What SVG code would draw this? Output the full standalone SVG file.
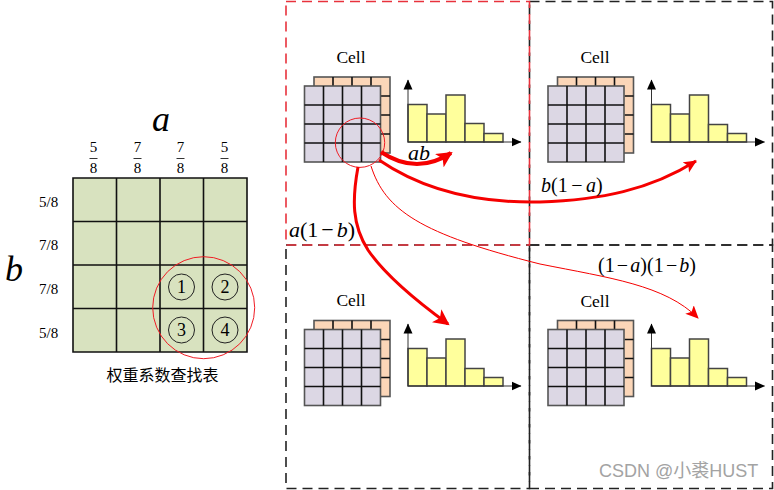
<svg xmlns="http://www.w3.org/2000/svg" width="774" height="490" viewBox="0 0 774 490">
<style>
text{font-family:"Liberation Serif","Noto Sans CJK SC",serif;fill:#000}
.i{font-style:italic}
.m{text-anchor:middle}
.grid{stroke:#111;stroke-width:1.6;fill:none}
.back{fill:#fbd6b8;stroke:#555;stroke-width:1.6}
.front{fill:#dcd7e4;stroke:#555;stroke-width:1.6}
.bar{fill:#ffff9c;stroke:#444;stroke-width:1.5}
.axis{stroke:#333;stroke-width:1;fill:none}
.dash{fill:none;stroke:#222;stroke-width:1.6;stroke-dasharray:10 6}
.dashr{fill:none;stroke:#e8323c;stroke-width:1.6;stroke-dasharray:10 6}
.num{fill:none;stroke:#222;stroke-width:1}
.red{fill:none;stroke:#f01c24;stroke-width:1}
.conn{fill:none;stroke:#f50000}
.cell{font-size:17.500px}
</style>
<defs>
<marker id="ax" markerUnits="userSpaceOnUse" markerWidth="11" markerHeight="11" refX="9.500" refY="5" orient="auto"><path d="M0,0.500L10,5L0,9.500Z" fill="#000"/></marker>
<marker id="h1" markerUnits="userSpaceOnUse" markerWidth="18" markerHeight="16" refX="14" refY="8" orient="auto"><path d="M0,0L16,8L0,16L4,8Z" fill="#f50000"/></marker>
<marker id="h2" markerUnits="userSpaceOnUse" markerWidth="14" markerHeight="14" refX="12" refY="6" orient="auto"><path d="M0,0L13,6L0,12L3,6Z" fill="#f50000"/></marker>
<g id="stack">
<rect class="back" x="314" y="77" width="76" height="76"/>
<path class="grid" d="M333,77V86M352,77V86M371,77V86M381,96H390M381,115H390M381,134H390"/>
<rect class="front" x="304.500" y="86" width="76" height="76"/>
<path class="grid" d="M323.500,86V162M342.500,86V162M361.500,86V162M304.500,105H380.500M304.500,124H380.500M304.500,143H380.500"/>
</g>
<g id="hist1">
<rect class="bar" x="408" y="104.500" width="19" height="37.500"/>
<rect class="bar" x="427" y="114" width="19" height="28"/>
<rect class="bar" x="446" y="95" width="19" height="47"/>
<rect class="bar" x="465" y="123.500" width="19" height="18.500"/>
<rect class="bar" x="484" y="133.500" width="19" height="8.500"/>
<path class="axis" d="M408,142V80" marker-end="url(#ax)"/>
<path class="axis" d="M408,142H521" marker-end="url(#ax)"/>
</g>
<g id="hist2">
<rect class="bar" x="408" y="104.500" width="19" height="37.500"/>
<rect class="bar" x="427" y="114" width="19" height="28"/>
<rect class="bar" x="446" y="95" width="19" height="47"/>
<rect class="bar" x="465" y="124.500" width="19" height="17.500"/>
<rect class="bar" x="484" y="133.500" width="19" height="8.500"/>
<path class="axis" d="M408,142V80" marker-end="url(#ax)"/>
<path class="axis" d="M408,142H521" marker-end="url(#ax)"/>
</g>
</defs>

<g id="panels">
<rect class="dash" x="529.500" y="1.500" width="243" height="243.500"/>
<rect class="dash" x="286" y="245" width="243.500" height="243.500"/>
<rect class="dash" x="529.500" y="245" width="243" height="243.500"/>
<rect class="dashr" x="286" y="1.500" width="243.500" height="243.500"/>
</g>

<g id="table">
<rect x="73" y="178" width="174" height="174" fill="#d8e2bf"/>
<path class="grid" d="M73,178H247V352H73ZM116.500,178V352M160,178V352M203.500,178V352M73,221.500H247M73,265H247M73,308.500H247"/>
<text x="152" y="131" class="i" font-size="36">a</text>
<text x="5" y="281" class="i" font-size="36">b</text>
<g font-size="15">
<text x="93.500" y="152" class="m">5</text><text x="93.500" y="173" class="m">8</text>
<text x="137.500" y="152" class="m">7</text><text x="137.500" y="173" class="m">8</text>
<text x="180.500" y="152" class="m">7</text><text x="180.500" y="173" class="m">8</text>
<text x="224.500" y="152" class="m">5</text><text x="224.500" y="173" class="m">8</text>
</g>
<path d="M89.500,158.500h8M133.500,158.500h8M176.500,158.500h8M220.500,158.500h8" stroke="#000" stroke-width="0.800" fill="none"/>
<g font-size="15">
<text x="39" y="207">5/8</text><text x="39" y="250">7/8</text><text x="39" y="294">7/8</text><text x="39" y="338">5/8</text>
</g>
<circle class="num" cx="181.500" cy="287" r="13"/><circle class="num" cx="225" cy="287" r="13"/>
<circle class="num" cx="181.500" cy="330" r="13"/><circle class="num" cx="225" cy="330" r="13"/>
<g font-size="18">
<text x="181.500" y="293" class="m">1</text><text x="225" y="293" class="m">2</text>
<text x="181.500" y="336" class="m">3</text><text x="225" y="336" class="m">4</text>
</g>
<circle class="red" cx="203.700" cy="307.700" r="51"/>
<text x="162.500" y="381" class="m" font-size="16">权重系数查找表</text>
</g>

<g id="cell-tl">
<text x="351" y="63" class="m cell">Cell</text>
<use href="#stack"/><use href="#hist1"/>
<circle class="red" cx="360" cy="142.700" r="24.700"/>
</g>
<g id="cell-tr">
<text x="595" y="63" class="m cell">Cell</text>
<use href="#stack" x="243.500"/><use href="#hist2" x="243.500"/>
</g>
<g id="cell-bl">
<text x="351" y="306" class="m cell">Cell</text>
<use href="#stack" y="243.500"/><use href="#hist2" y="244"/>
</g>
<g id="cell-br">
<text x="595" y="307" class="m cell">Cell</text>
<use href="#stack" x="243.500" y="243.500"/><use href="#hist2" x="243.500" y="244"/>
</g>

<g id="connectors">
<path class="conn" stroke-width="4" d="M381,152C402,166 425,170 451,153" marker-end="url(#h1)"/>
<path class="conn" stroke-width="3" d="M379,160C430,195 490,203 540,202C600,200 650,190 696,161" marker-end="url(#h2)"/>
<path class="conn" stroke-width="3" d="M358,167C352,200 352,225 368,250C385,275 415,300 448,324" marker-end="url(#h1)"/>
<path class="conn" stroke-width="1" d="M371,166C385,210 420,234 540,264C610,278 665,285 698,318" marker-end="url(#h2)"/>
</g>

<g id="labels">
<text x="408" y="160" font-size="22" class="i">ab</text>
<text x="289" y="237" font-size="22"><tspan class="i">a</tspan>(1<tspan dx="3">−</tspan><tspan class="i" dx="3">b</tspan>)</text>
<text x="541" y="192" font-size="20"><tspan class="i">b</tspan>(1<tspan dx="3.500">−</tspan><tspan class="i" dx="3.500">a</tspan>)</text>
<text x="598" y="272" font-size="20">(1<tspan dx="2.200">−</tspan><tspan class="i" dx="2.200">a</tspan>)(1<tspan dx="2.200">−</tspan><tspan class="i" dx="2.200">b</tspan>)</text>
</g>
<text x="599" y="477" font-size="18" style="font-family:'Liberation Sans','Noto Sans CJK SC',sans-serif;fill:#a3a3a3">CSDN @小裘HUST</text>
</svg>
